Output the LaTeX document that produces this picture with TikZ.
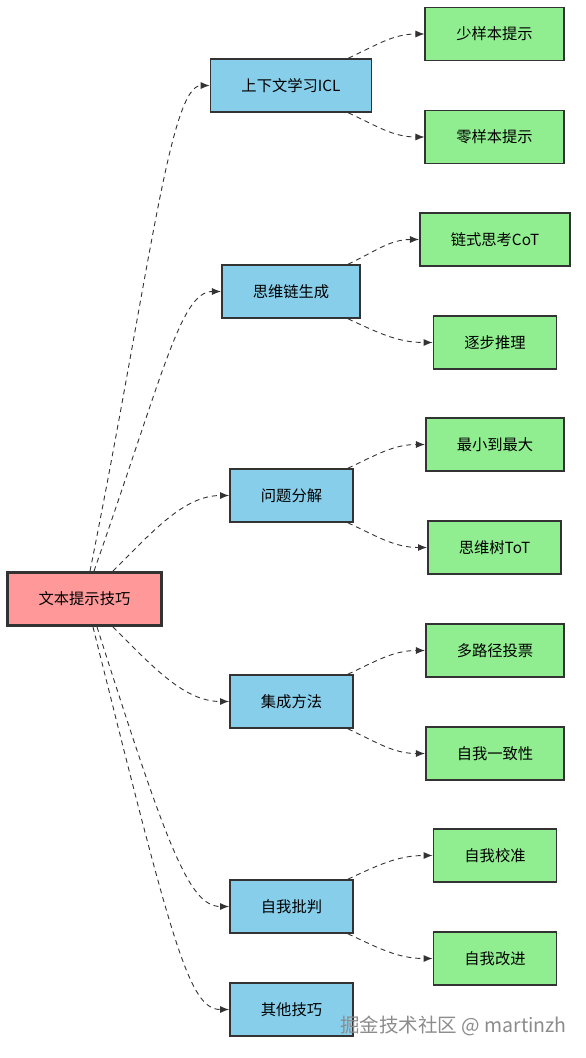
\documentclass[tikz,border=0pt]{standalone}
\usepackage{fontspec}
\setmainfont{Noto Sans CJK SC}
\usetikzlibrary{arrows.meta}
\definecolor{rootpink}{HTML}{FF9999}
\definecolor{midblue}{HTML}{87CEEB}
\definecolor{leafgreen}{HTML}{90EE90}
\definecolor{edgegray}{HTML}{333333}
\tikzset{
	rootbox/.style={draw=edgegray, line width=2.8pt, fill=rootpink, minimum height=53pt, inner xsep=31pt, font=\fontsize{15.3}{18}\selectfont},
	midbox/.style={draw=edgegray, line width=1.6pt, fill=midblue, minimum height=53pt, inner xsep=31pt, font=\fontsize{15.3}{18}\selectfont},
	leafbox/.style={draw=edgegray, line width=1.6pt, fill=leafgreen, minimum height=53pt, inner xsep=31pt, font=\fontsize{15.3}{18}\selectfont},
	link/.style={draw=edgegray, line width=0.9pt, dash pattern=on 5pt off 4pt, -{Latex[length=9pt,width=7pt]}}
}

\begin{document}
\begin{tikzpicture}[x=1pt,y=1pt]
		%%%%% START %%%%%
		
		\useasboundingbox (0,0) rectangle (586,-1058);
		
		\node[rootbox] (root) at (84.5,-599) {文本提示技巧};
		
		\node[midbox] (icl) at (291,-85.5) {上下文学习ICL};
		\node[midbox] (cot) at (291,-291.5) {思维链生成};
		\node[midbox] (decomp) at (291.5,-495.5) {问题分解};
		\node[midbox] (ensemble) at (291.5,-701.5) {集成方法};
		\node[midbox] (critic) at (291.5,-906.5) {自我批判};
		\node[midbox] (other) at (291.5,-1009.5) {其他技巧};
		
		\node[leafbox] (fewshot) at (494.5,-34) {少样本提示};
		\node[leafbox] (zeroshot) at (494.5,-137) {零样本提示};
		\node[leafbox] (chain) at (495,-239.5) {链式思考CoT};
		\node[leafbox] (stepwise) at (495,-342.5) {逐步推理};
		\node[leafbox] (leastmost) at (495,-444.5) {最小到最大};
		\node[leafbox] (tot) at (494.5,-547.5) {思维树ToT};
		\node[leafbox] (vote) at (495,-650.5) {多路径投票};
		\node[leafbox] (consist) at (495,-753.5) {自我一致性};
		\node[leafbox] (calib) at (495,-855.5) {自我校准};
		\node[leafbox] (refine) at (495,-958.5) {自我改进};
		
		% root to middle
		\draw[link] ([xshift=5.5pt]root.north) .. controls +(60,300) and +(-40,0) .. (icl.west);
		\draw[link] ([xshift=9.5pt]root.north) .. controls +(70,200) and +(-40,0) .. (cot.west);
		\draw[link] ([xshift=28.5pt]root.north) .. controls +(40,40) and +(-45,0) .. (decomp.west);
		\draw[link] ([xshift=28.5pt]root.south) .. controls +(40,-40) and +(-45,0) .. (ensemble.west);
		\draw[link] ([xshift=12.5pt]root.south) .. controls +(70,-220) and +(-40,0) .. (critic.west);
		\draw[link] ([xshift=8.5pt]root.south) .. controls +(80,-320) and +(-40,0) .. (other.west);
		
		% middle to leaves
		\draw[link] ([xshift=-24pt]icl.north east) to[out=25, in=180] (fewshot.west);
		\draw[link] ([xshift=-24pt]icl.south east) to[out=-25, in=180] (zeroshot.west);
		\draw[link] ([xshift=-13pt]cot.north east) to[out=25, in=180] (chain.west);
		\draw[link] ([xshift=-13pt]cot.south east) to[out=-25, in=180] (stepwise.west);
		\draw[link] ([xshift=-6pt]decomp.north east) to[out=25, in=180] (leastmost.west);
		\draw[link] ([xshift=-6pt]decomp.south east) to[out=-25, in=180] (tot.west);
		\draw[link] ([xshift=-6pt]ensemble.north east) to[out=25, in=180] (vote.west);
		\draw[link] ([xshift=-6pt]ensemble.south east) to[out=-25, in=180] (consist.west);
		\draw[link] ([xshift=-6pt]critic.north east) to[out=25, in=180] (calib.west);
		\draw[link] ([xshift=-6pt]critic.south east) to[out=-25, in=180] (refine.west);
		
		\node[text=black!45, font=\fontsize{19.5}{22}\selectfont] (mark) at (453.5,-1026) {掘金技术社区 @ martinzh};
		
		%%%%% END %%%%%
	\end{tikzpicture}
\end{document}
